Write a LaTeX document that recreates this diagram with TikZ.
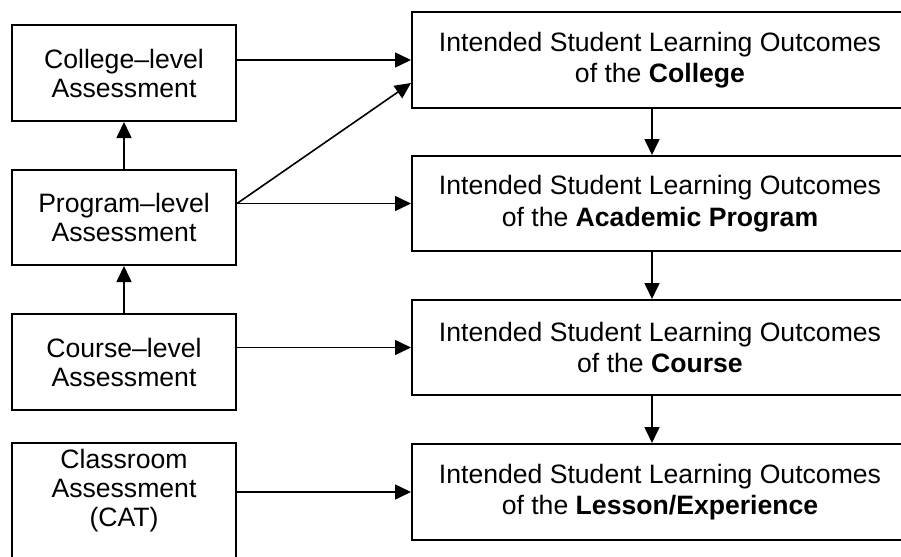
\documentclass[tikz,border=0pt]{standalone}
\usepackage{fontspec}
\setmainfont{Liberation Sans}
\usetikzlibrary{positioning,calc,arrows.meta}

\begin{document}
\begin{tikzpicture}[x=0.5pt,y=-0.5pt,
		assess/.style={draw=black,line width=1pt,minimum width=112pt,minimum height=48pt,align=center,font=\fontsize{13.3}{14.5}\selectfont},
		outcome/.style={draw=black,line width=1pt,minimum width=248pt,minimum height=48pt,align=center,font=\fontsize{13.3}{15.8}\selectfont},
		link/.style={-{Triangle[length=8pt,width=7.5pt]},line width=0.8pt}]
		\clip (0,0) rectangle (901,557);
		% assessment levels
		\node[assess] (col) at (124,73) {College–level\\Assessment};
		\node[assess,minimum height=47.5pt] (prog) at (124,217.5) {Program–level\\Assessment};
		\node[assess] (course) at (124,362) {Course–level\\Assessment};
		\node[assess,anchor=north,text depth=38pt] (cat) at (124,442) {Classroom\\Assessment\\(CAT)};
		% outcomes
		\node[outcome] (r1) at (660,60) {Intended Student Learning Outcomes\\of the \textbf{College}};
		\node[outcome,minimum height=47.5pt] (r2) at (660,203.5) {Intended Student Learning Outcomes\\of the \textbf{Academic Program}};
		\node[outcome,minimum height=47.5pt] (r3) at (660,347.5) {Intended Student Learning Outcomes\\of the \textbf{Course}};
		\node[outcome] (r4) at (660,492) {Intended Student Learning Outcomes\\of the \textbf{Lesson/Experience}};
		
		\draw[link] (r1.west -| col.east) -- (r1.west);
		\draw[link] (r2.west -| prog.east) -- ($(r1.west)+(0,23)$);
		\draw[link] (r2.west -| prog.east) -- (r2.west);
		\draw[link] (r3.west -| course.east) -- (r3.west);
		\draw[link] (r4.west -| cat.east) -- (r4.west);
		\draw[link] (prog.north) -- (col.south);
		\draw[link] (course.north) -- (prog.south);
		\foreach \a/\b in {r1/r2,r2/r3,r3/r4}
			\draw[link] ([xshift=-4pt]\a.south) -- ([xshift=-4pt]\b.north);
	\end{tikzpicture}
\end{document}
